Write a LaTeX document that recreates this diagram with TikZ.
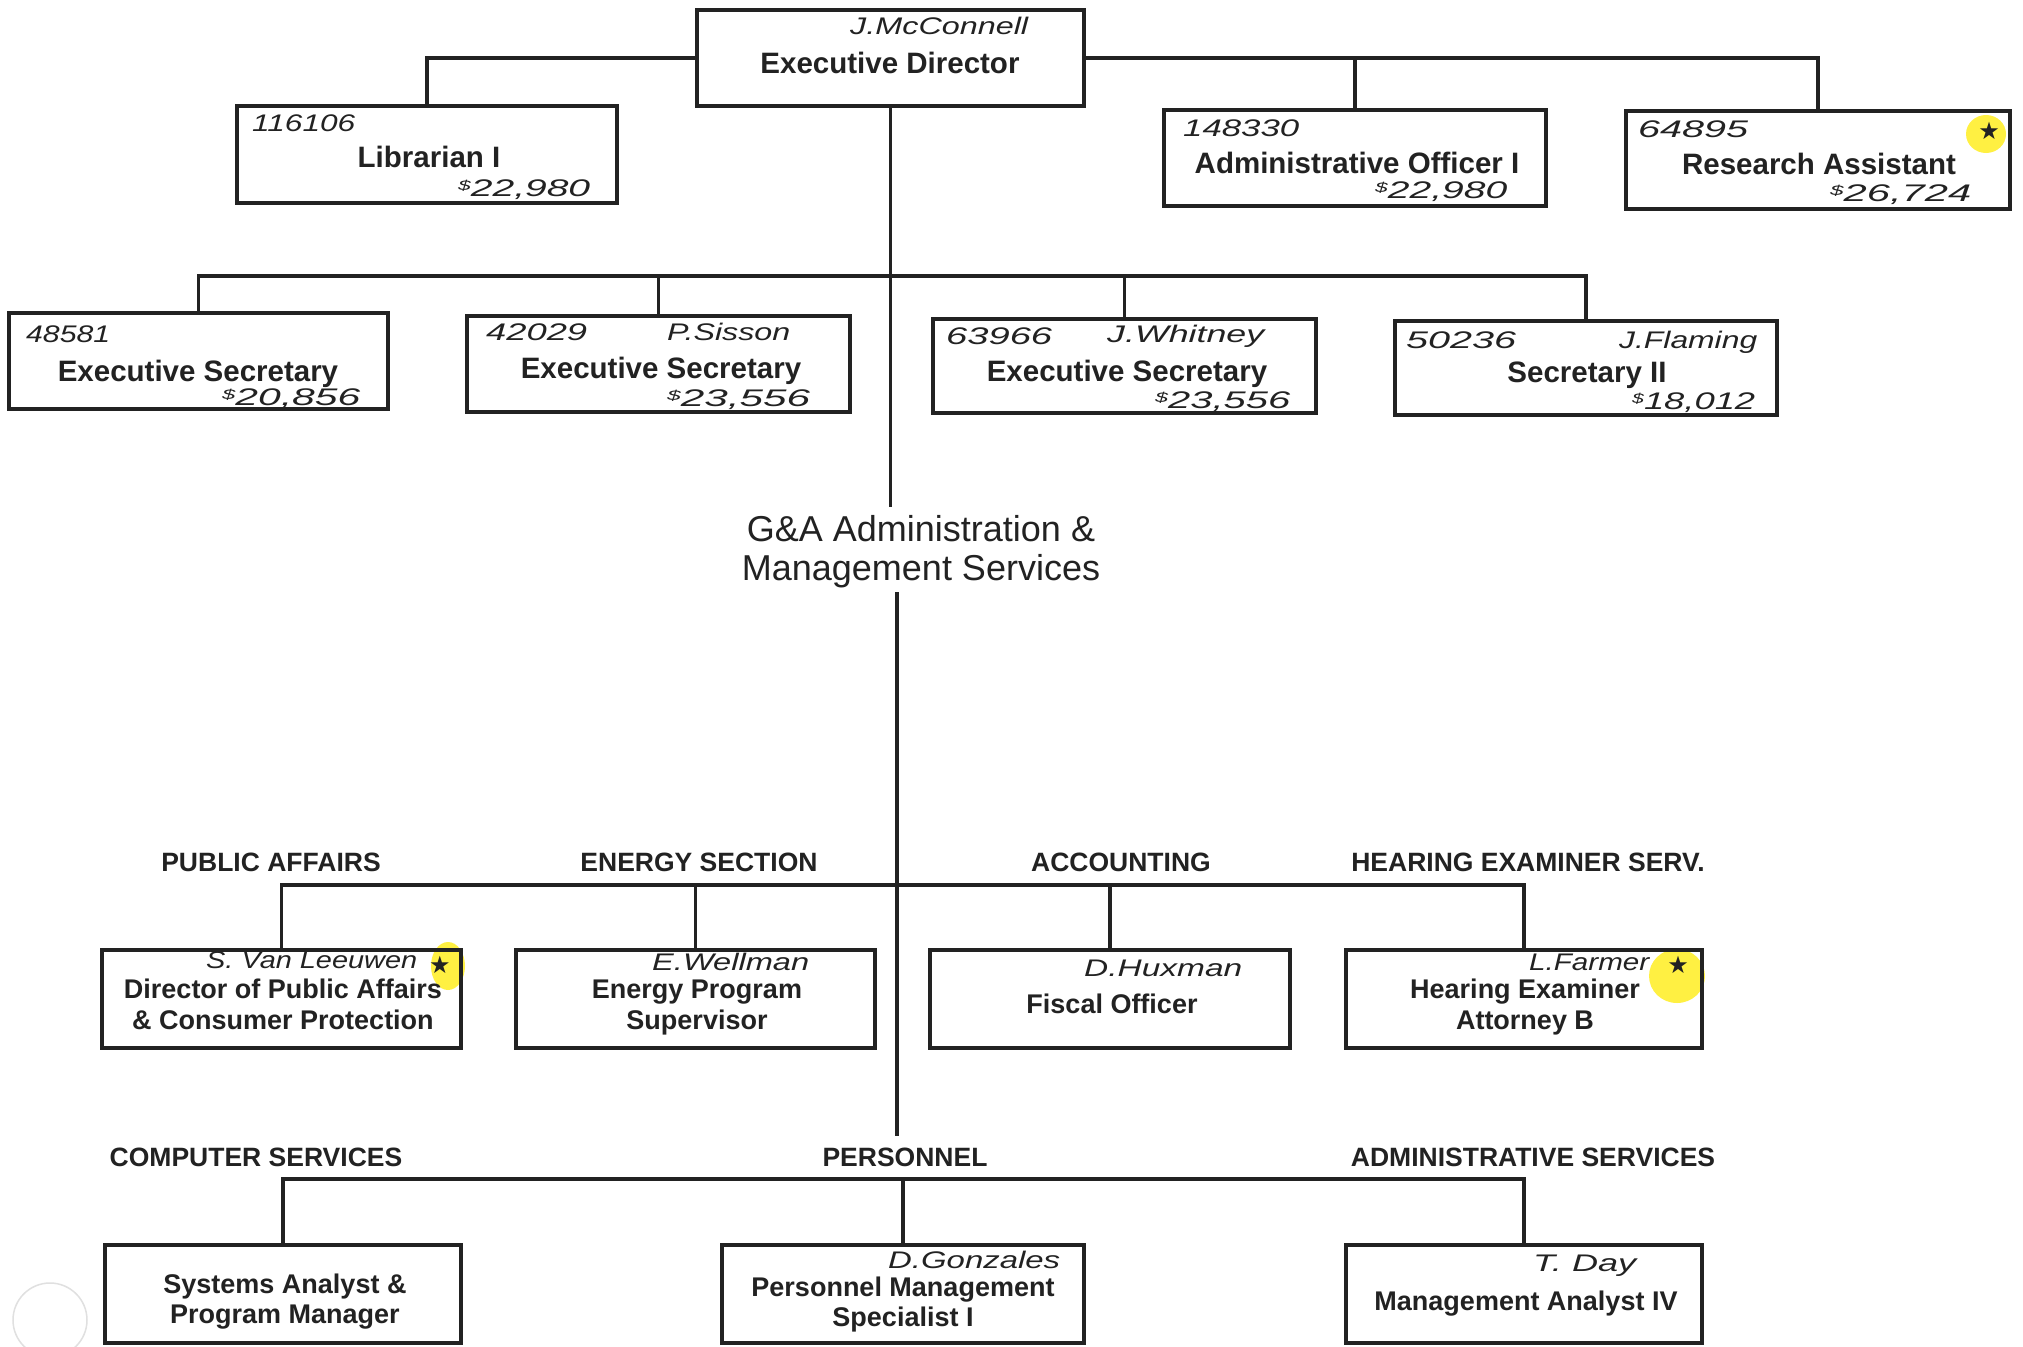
\documentclass[tikz,border=0pt]{standalone}
\usepackage{fontspec}
\usepackage{graphicx}
\setmainfont{Liberation Sans}
\newfontfamily\handfont{Liberation Sans}
\newfontfamily\symfont{DejaVu Sans}
\definecolor{ink}{HTML}{222222}
\definecolor{hlyellow}{HTML}{FFEE22}
\newcommand\hw[2]{\resizebox{#1pt}{\height}{#2}}
\newcommand\dol{\raisebox{6pt}{\fontsize{14}{14}\selectfont\$}}
\tikzset{
  box/.style={draw=ink, line width=4pt, rectangle, inner sep=0pt},
  conn/.style={draw=ink, line width=3.5pt},
  ttl/.style={font=\bfseries\fontsize{29.5}{31}\selectfont, text=ink, inner sep=0pt, anchor=base},
  ttlb/.style={font=\bfseries\fontsize{27}{29}\selectfont, text=ink, inner sep=0pt, anchor=base},
  head/.style={font=\bfseries\fontsize{26.5}{28}\selectfont, text=ink, inner sep=0pt, anchor=base},
  galbl/.style={font=\fontsize{36}{38}\selectfont, text=ink, inner sep=0pt, anchor=base},
  hand/.style={font=\handfont\itshape\fontsize{24}{26}\selectfont, text=ink, inner sep=0pt, anchor=west},
  starm/.style={font=\symfont\fontsize{24}{26}\selectfont, text=ink, inner sep=0pt},
  hl/.style={fill=hlyellow, draw=none, opacity=0.85},
}
\begin{document}
\begin{tikzpicture}[x=1pt,y=-1pt]
\useasboundingbox (0,0) rectangle (2023,1346);
\fill[white] (0,0) rectangle (2023,1346);
% scan artefact (hole punch)
\begin{scope}
\clip (0,0) rectangle (2023,1346);
\draw[black!12, line width=1.5pt] (50,1320) circle [radius=37pt];
\end{scope}
% highlighter marks
\fill[hl] (1986,134) ellipse [x radius=20pt, y radius=19pt];
\fill[hl] (448,966) ellipse [x radius=17pt, y radius=24pt];
\fill[hl] (1677,976) ellipse [x radius=28pt, y radius=27pt];

% boxes
\node[box, minimum width=387pt, minimum height=96pt] (ed) at (890.5,58) {};
\node[box, minimum width=380pt, minimum height=97pt] (lib) at (427,154.5) {};
\node[box, minimum width=382pt, minimum height=96pt] (ao) at (1355,158) {};
\node[box, minimum width=384pt, minimum height=98pt] (ra) at (1818,160) {};
\node[box, minimum width=379pt, minimum height=96pt] (es1) at (198.5,361) {};
\node[box, minimum width=383pt, minimum height=96pt] (es2) at (658.5,364) {};
\node[box, minimum width=383pt, minimum height=94pt] (es3) at (1124.5,366) {};
\node[box, minimum width=382pt, minimum height=94pt] (sec2) at (1586,368) {};
\node[box, minimum width=359pt, minimum height=98pt] (pa) at (281.5,999) {};
\node[box, minimum width=359pt, minimum height=98pt] (en) at (695.5,999) {};
\node[box, minimum width=360pt, minimum height=98pt] (fo) at (1110,999) {};
\node[box, minimum width=356pt, minimum height=98pt] (he) at (1524,999) {};
\node[box, minimum width=356pt, minimum height=98pt] (cs) at (283,1294) {};
\node[box, minimum width=362pt, minimum height=98pt] (pm) at (903,1294) {};
\node[box, minimum width=356pt, minimum height=98pt] (ma) at (1524,1294) {};

% bus coordinates
\coordinate (busA) at (0,276);
\coordinate (busB) at (0,885);
\coordinate (busC) at (0,1179);
\coordinate (gatop) at (890.5,507);
\coordinate (gabot) at (897,592);
\coordinate (vend) at (897,1136);

% connectors
\draw[conn] (ed.west) -| (lib.north);
\draw[conn] (ed.east) -| (ra.north);
\draw[conn] (ao.north) -- (ao.north |- ed.east);
\draw[conn] (ed.south) -- (gatop);
\draw[conn] (es1.north) |- (busA -| sec2.north) -- (sec2.north);
\draw[conn] (es2.north) -- (es2.north |- busA);
\draw[conn] (es3.north) -- (es3.north |- busA);
\draw[conn] (gabot) -- (vend);
\draw[conn] (pa.north) |- (busB -| he.north) -- (he.north);
\draw[conn] (en.north) -- (en.north |- busB);
\draw[conn] (fo.north) -- (fo.north |- busB);
\draw[conn] (cs.north) |- (busC -| ma.north) -- (ma.north);
\draw[conn] (pm.north) -- (pm.north |- busC);

% box titles
\node[ttl] (t-ed) at (890,74) {Executive Director};
\node[ttl] (t-lib) at (429,167) {Librarian I};
\node[ttl] (t-ao) at (1357,173) {Administrative Officer I};
\node[ttl] (t-ra) at (1819,174) {Research Assistant};
\node[ttl] (t-es1) at (198,381) {Executive Secretary};
\node[ttl] (t-es2) at (661,378) {Executive Secretary};
\node[ttl] (t-es3) at (1127,381) {Executive Secretary};
\node[ttl] (t-sec2) at (1587,382) {Secretary II};
\node[ttlb] (t-pa1) at (283,998) {Director of Public Affairs};
\node[ttlb] (t-pa2) at (283,1029) {\& Consumer Protection};
\node[ttlb] (t-en1) at (697,998) {Energy Program};
\node[ttlb] (t-en2) at (697,1029) {Supervisor};
\node[ttlb] (t-fo) at (1112,1013) {Fiscal Officer};
\node[ttlb] (t-he1) at (1525,998) {Hearing Examiner};
\node[ttlb] (t-he2) at (1525,1029) {Attorney B};
\node[ttlb] (t-cs1) at (285,1293) {Systems Analyst \&};
\node[ttlb] (t-cs2) at (285,1323) {Program Manager};
\node[ttlb] (t-pm1) at (903,1296) {Personnel Management};
\node[ttlb] (t-pm2) at (903,1326) {Specialist I};
\node[ttlb] (t-ma) at (1526,1310) {Management Analyst IV};

% G&A label
\node[galbl] (ga1) at (921,541) {G\&A Administration \&};
\node[galbl] (ga2) at (921,580) {Management Services};

% section headings
\node[head] (h-pa) at (271,871) {PUBLIC AFFAIRS};
\node[head] (h-en) at (699,871) {ENERGY SECTION};
\node[head] (h-ac) at (1121,871) {ACCOUNTING};
\node[head] (h-he) at (1528,871) {HEARING EXAMINER SERV.};
\node[head] (h-cs) at (256,1166) {COMPUTER SERVICES};
\node[head] (h-pe) at (905,1166) {PERSONNEL};
\node[head] (h-as) at (1533,1166) {ADMINISTRATIVE SERVICES};

% handwritten notes
\node[hand] (n-ed) at (850,26) {\hw{178}{J.McConnell}};
\node[hand] (n-lib1) at (252,123) {\hw{103}{116106}};
\node[hand] (n-lib2) at (458,190) {\hw{132}{\dol22,980}};
\node[hand] (n-ao1) at (1183,128) {\hw{116}{148330}};
\node[hand] (n-ao2) at (1375,192) {\hw{132}{\dol22,980}};
\node[hand] (n-ra1) at (1638,129) {\hw{110}{64895}};
\node[hand] (n-ra2) at (1830,195) {\hw{141}{\dol26,724}};
\node[hand] (n-es11) at (26,334) {\hw{84}{48581}};
\node[hand] (n-es12) at (222,399) {\hw{138}{\dol20,856}};
\node[hand] (n-es21) at (486,332) {\hw{101}{42029}};
\node[hand] (n-es22) at (667,332) {\hw{123}{P.Sisson}};
\node[hand] (n-es23) at (667,400) {\hw{143}{\dol23,556}};
\node[hand] (n-es31) at (946,336) {\hw{106}{63966}};
\node[hand] (n-es32) at (1107,336) {\hw{157}{J.Whitney}};
\node[hand] (n-es33) at (1155,402) {\hw{135}{\dol23,556}};
\node[hand] (n-s21) at (1406,340) {\hw{110}{50236}};
\node[hand] (n-s22) at (1619,342) {\hw{138}{J.Flaming}};
\node[hand] (n-s23) at (1632,403) {\hw{123}{\dol18,012}};
\node[hand] (n-pa) at (206,960) {\hw{211}{S. Van Leeuwen}};
\node[hand] (n-en) at (652,962) {\hw{157}{E.Wellman}};
\node[hand] (n-fo) at (1084,968) {\hw{158}{D.Huxman}};
\node[hand] (n-he) at (1529,962) {\hw{120}{L.Farmer}};
\node[hand] (n-pm) at (888,1260) {\hw{172}{D.Gonzales}};
\node[hand] (n-ma) at (1533,1266) {\hw{103}{T. Day}};

% stars
\node[starm] (s-ra) at (1989,131) {★};
\node[starm] (s-pa) at (440,965) {★};
\node[starm] (s-he) at (1678,965) {★};
\end{tikzpicture}
\end{document}
